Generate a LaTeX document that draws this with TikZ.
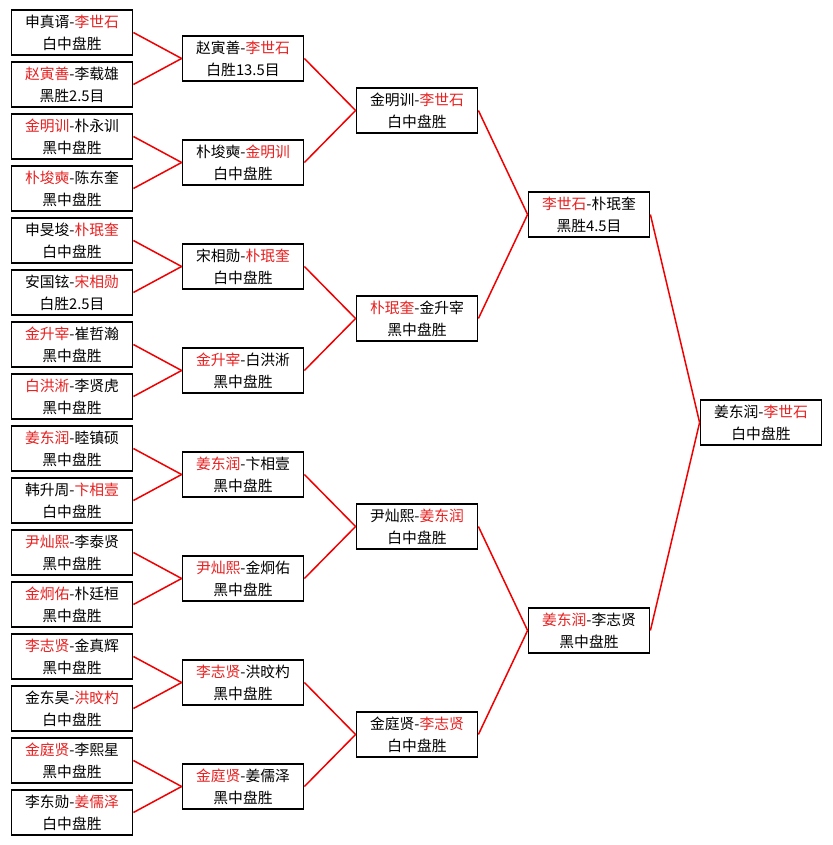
\documentclass[tikz,border=0pt]{standalone}
\usepackage{fontspec}
\newfontfamily\cjk{Noto Sans CJK SC}
\definecolor{hred}{RGB}{232,32,32}
\definecolor{lred}{RGB}{240,0,0}
\newcommand{\winner}[1]{\textcolor{hred}{#1}}

\begin{document}
\begin{tikzpicture}[x=1pt,y=-1pt]
        \tikzstyle{every node}+=[inner sep=0pt]
        \tikzstyle{game}=[draw=black, line width=1.8pt, fill=white, minimum width=121pt, minimum height=45pt, align=center, font=\cjk\fontsize{14.8}{22}\selectfont]
        \tikzstyle{link}=[draw=lred, line width=1.5pt]
        \useasboundingbox (0,0) rectangle (832,845);
        % round 1
        \node [game] (p1) at (72,32.5) {申真谞-\winner{李世石}\\白中盘胜};
        \node [game] (p2) at (72,84.5) {\winner{赵寅善}-李载雄\\黑胜2.5目};
        \node [game] (p3) at (72,136.5) {\winner{金明训}-朴永训\\黑中盘胜};
        \node [game] (p4) at (72,188.5) {\winner{朴埈奭}-陈东奎\\黑中盘胜};
        \node [game] (p5) at (72,240.5) {申旻埈-\winner{朴珉奎}\\白中盘胜};
        \node [game] (p6) at (72,292.5) {安国铉-\winner{宋相勋}\\白胜2.5目};
        \node [game] (p7) at (72,344.5) {\winner{金升宰}-崔哲瀚\\黑中盘胜};
        \node [game] (p8) at (72,396.5) {\winner{白洪淅}-李贤虎\\黑中盘胜};
        \node [game] (p9) at (72,448.5) {\winner{姜东润}-睦镇硕\\黑中盘胜};
        \node [game] (p10) at (72,500.5) {韩升周-\winner{卞相壹}\\白中盘胜};
        \node [game] (p11) at (72,552.5) {\winner{尹灿熙}-李泰贤\\黑中盘胜};
        \node [game] (p12) at (72,604.5) {\winner{金炯佑}-朴廷桓\\黑中盘胜};
        \node [game] (p13) at (72,656.5) {\winner{李志贤}-金真辉\\黑中盘胜};
        \node [game] (p14) at (72,708.5) {金东昊-\winner{洪旼杓}\\白中盘胜};
        \node [game] (p15) at (72,760.5) {\winner{金庭贤}-李熙星\\黑中盘胜};
        \node [game] (p16) at (72,812.5) {李东勋-\winner{姜儒泽}\\白中盘胜};
        % round 2
        \node [game] (q1) at (243,58.5) {赵寅善-\winner{李世石}\\白胜13.5目};
        \node [game] (q2) at (243,162.5) {朴埈奭-\winner{金明训}\\白中盘胜};
        \node [game] (q3) at (243,266.5) {宋相勋-\winner{朴珉奎}\\白中盘胜};
        \node [game] (q4) at (243,370.5) {\winner{金升宰}-白洪淅\\黑中盘胜};
        \node [game] (q5) at (243,474.5) {\winner{姜东润}-卞相壹\\黑中盘胜};
        \node [game] (q6) at (243,578.5) {\winner{尹灿熙}-金炯佑\\黑中盘胜};
        \node [game] (q7) at (243,682.5) {\winner{李志贤}-洪旼杓\\黑中盘胜};
        \node [game] (q8) at (243,786.5) {\winner{金庭贤}-姜儒泽\\黑中盘胜};
        % round 3
        \node [game] (s1) at (417,110.5) {金明训-\winner{李世石}\\白中盘胜};
        \node [game] (s2) at (417,318.5) {\winner{朴珉奎}-金升宰\\黑中盘胜};
        \node [game] (s3) at (417,526.5) {尹灿熙-\winner{姜东润}\\白中盘胜};
        \node [game] (s4) at (417,734.5) {金庭贤-\winner{李志贤}\\白中盘胜};
        % semi final
        \node [game] (t1) at (589,214.5) {\winner{李世石}-朴珉奎\\黑胜4.5目};
        \node [game] (t2) at (589,630.5) {\winner{姜东润}-李志贤\\黑中盘胜};
        % final
        \node [game] (w) at (761,422.5) {姜东润-\winner{李世石}\\白中盘胜};

        \draw [link] (p1.east) -- (q1.west);
        \draw [link] (p2.east) -- (q1.west);
        \draw [link] (p3.east) -- (q2.west);
        \draw [link] (p4.east) -- (q2.west);
        \draw [link] (p5.east) -- (q3.west);
        \draw [link] (p6.east) -- (q3.west);
        \draw [link] (p7.east) -- (q4.west);
        \draw [link] (p8.east) -- (q4.west);
        \draw [link] (p9.east) -- (q5.west);
        \draw [link] (p10.east) -- (q5.west);
        \draw [link] (p11.east) -- (q6.west);
        \draw [link] (p12.east) -- (q6.west);
        \draw [link] (p13.east) -- (q7.west);
        \draw [link] (p14.east) -- (q7.west);
        \draw [link] (p15.east) -- (q8.west);
        \draw [link] (p16.east) -- (q8.west);

        \draw [link] (q1.east) -- (s1.west);
        \draw [link] (q2.east) -- (s1.west);
        \draw [link] (q3.east) -- (s2.west);
        \draw [link] (q4.east) -- (s2.west);
        \draw [link] (q5.east) -- (s3.west);
        \draw [link] (q6.east) -- (s3.west);
        \draw [link] (q7.east) -- (s4.west);
        \draw [link] (q8.east) -- (s4.west);

        \draw [link] (s1.east) -- (t1.west);
        \draw [link] (s2.east) -- (t1.west);
        \draw [link] (s3.east) -- (t2.west);
        \draw [link] (s4.east) -- (t2.west);

        \draw [link] (t1.east) -- (w.west);
        \draw [link] (t2.east) -- (w.west);
\end{tikzpicture}
\end{document}
